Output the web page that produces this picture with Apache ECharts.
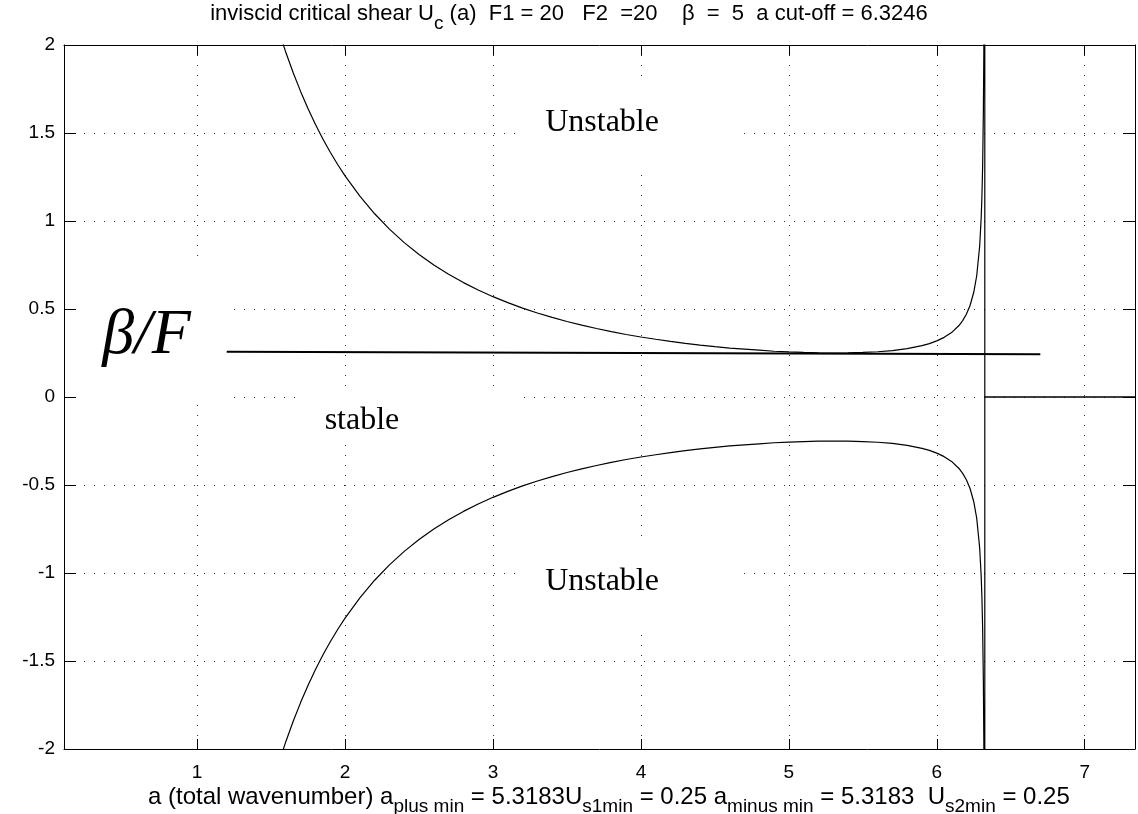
<!DOCTYPE html>
<html><head><meta charset="utf-8">
<script src="https://cdn.jsdelivr.net/npm/echarts@6/dist/echarts.min.js"></script>
<style>html,body{margin:0;padding:0;background:#fff}#c{width:1138px;height:814px}</style>
</head><body><div id="c"></div>
<script>
// ---- data ----
const xRange = [0.1, 7.34];
const yRange = [-2, 2];
const xTickValues = [1, 2, 3, 4, 5, 6, 7];
const aCutoff = 6.3246;

const aValues = [1.5, 1.55, 1.6, 1.65, 1.7, 1.75, 1.8, 1.85, 1.9, 1.95, 2.0,
  2.1, 2.2, 2.3, 2.4, 2.5, 2.6, 2.7, 2.8, 2.9, 3.0,
  3.1, 3.2, 3.3, 3.4, 3.5, 3.6, 3.7, 3.8, 3.9, 4.0,
  4.1, 4.2, 4.3, 4.4, 4.5, 4.6, 4.7, 4.8, 4.9, 5.0,
  5.1, 5.2, 5.3183, 5.4, 5.5, 5.6, 5.7, 5.8, 5.9,
  5.95, 6.0, 6.05, 6.1, 6.15, 6.175, 6.2, 6.225, 6.25, 6.27, 6.29, 6.30, 6.305, 6.31, 6.315, 6.318, 6.32, 6.323,
  6.3246, 6.3246, 7.34];
const uUpper = [2.226, 2.085, 1.957, 1.841, 1.735, 1.638, 1.548, 1.466, 1.391, 1.321, 1.256,
  1.141, 1.041, 0.954, 0.877, 0.810, 0.750, 0.698, 0.650, 0.608, 0.570,
  0.536, 0.505, 0.477, 0.452, 0.429, 0.408, 0.389, 0.371, 0.355, 0.341,
  0.328, 0.316, 0.305, 0.295, 0.286, 0.278, 0.272, 0.266, 0.260, 0.256,
  0.253, 0.251, 0.250, 0.251, 0.253, 0.257, 0.264, 0.275, 0.292,
  0.303, 0.319, 0.339, 0.366, 0.406, 0.434, 0.470, 0.520, 0.595, 0.689, 0.858, 1.014, 1.134, 1.311, 1.615, 1.946, 2.334, 3.99,
  40, 0, 0];
const uLower = [-2.226, -2.085, -1.957, -1.841, -1.735, -1.638, -1.548, -1.466, -1.391, -1.321, -1.256,
  -1.141, -1.041, -0.954, -0.877, -0.810, -0.750, -0.698, -0.650, -0.608, -0.570,
  -0.536, -0.505, -0.477, -0.452, -0.429, -0.408, -0.389, -0.371, -0.355, -0.341,
  -0.328, -0.316, -0.305, -0.295, -0.286, -0.278, -0.272, -0.266, -0.260, -0.256,
  -0.253, -0.251, -0.250, -0.251, -0.253, -0.257, -0.264, -0.275, -0.292,
  -0.303, -0.319, -0.339, -0.366, -0.406, -0.434, -0.470, -0.520, -0.595, -0.689, -0.858, -1.014, -1.134, -1.311, -1.615, -1.946, -2.334, -3.99,
  -40, 0, 0];
// hand-drawn beta/F line
const betaLineX = [1.2, 6.7];
const betaLineY = [0.257, 0.243];

// annotations: text, anchor (data coords, left / bottom of text box)
const annotTexts = ['Unstable', 'Unstable', 'stable', 'β/F'];
const annotX = [3.353, 3.353, 1.862, 0.358];
const annotY = [1.468, -1.14, -0.225, 0.165];
// white boxes behind annotations (data coords: x0, x1, y0, y1)
const maskX0 = [3.20, 3.20, 1.708, 0.1];
const maskX1 = [4.68, 4.68, 3.165, 1.199];
const maskY0 = [1.774, -0.839, 0.053, 0.752];
const maskY1 = [1.263, -1.35, -0.254, -0.044];

const titleText = 'inviscid critical shear U{s|c} (a)  F1 = 20   F2  =20    β  =  5  a cut-off = 6.3246';
const xNameText = 'a (total wavenumber) a{s|plus min} = 5.3183U{s|s1min} = 0.25 a{s|minus min} = 5.3183  U{s|s2min} = 0.25';

// ---- chart ----
const sansFont = '"Liberation Sans", Arial, Helvetica, sans-serif';
const serifFont = '"Liberation Serif", "Times New Roman", serif';
const chart = echarts.init(document.getElementById('c'), null, {renderer: 'canvas'});

function textStyleFor(size, subSize) {
  return {fontSize: size, fontFamily: sansFont, color: '#000', fontWeight: 'normal', lineHeight: 22,
    rich: {s: {fontSize: subSize, fontFamily: sansFont, color: '#000', lineHeight: 38, verticalAlign: 'bottom'}}};
}

const dotted = {color: '#333', width: 1, type: [1, 9]};

const option = {
  backgroundColor: '#fff',
  animation: false,
  title: [
    {text: titleText, left: 'center', top: -5, padding: 0, textStyle: textStyleFor(22, 19)},
    {text: xNameText, left: 148, top: 778, padding: 0, textStyle: textStyleFor(24, 19)}
  ],
  grid: {left: 64, right: -2, top: 45, bottom: 65, containLabel: false},
  xAxis: [
    {type: 'value', min: xRange[0], max: xRange[1], splitNumber: 7, position: 'bottom', z: 5,
      axisLine: {show: true, onZero: false, lineStyle: {color: '#000', width: 1}},
      axisTick: {show: true, inside: true, length: 10, lineStyle: {color: '#000'}},
      axisLabel: {show: true, margin: 14, color: '#000', fontSize: 19, fontFamily: sansFont,
        formatter: v => xTickValues.indexOf(Math.round(v * 1000) / 1000) >= 0 ? String(v) : ''},
      splitLine: {show: false}},
    {type: 'value', min: xRange[0], max: xRange[1], splitNumber: 7, position: 'top', z: 0,
      axisLine: {show: true, onZero: false, lineStyle: {color: '#000', width: 1}},
      axisTick: {show: true, inside: true, length: 10, lineStyle: {color: '#000'}},
      axisLabel: {show: false},
      splitLine: {show: true, lineStyle: dotted}}
  ],
  yAxis: [
    {type: 'value', min: yRange[0], max: yRange[1], interval: 0.5, position: 'left', z: 5,
      axisLine: {show: true, onZero: false, lineStyle: {color: '#000', width: 1}},
      axisTick: {show: true, inside: true, length: 12, lineStyle: {color: '#000'}},
      axisLabel: {show: true, margin: 9, color: '#000', fontSize: 19, fontFamily: sansFont},
      splitLine: {show: false}},
    {type: 'value', min: yRange[0], max: yRange[1], interval: 0.5, position: 'right', z: 0,
      axisLine: {show: true, onZero: false, lineStyle: {color: '#000', width: 1}},
      axisTick: {show: true, inside: true, length: 12, lineStyle: {color: '#000'}},
      axisLabel: {show: false},
      splitLine: {show: true, lineStyle: dotted}}
  ],
  series: [
    {type: 'line', xAxisIndex: 0, yAxisIndex: 0, z: 3, showSymbol: false, symbol: 'none', clip: true,
      lineStyle: {color: '#000', width: 1.2},
      data: aValues.map((a, i) => [a, uUpper[i]])},
    {type: 'line', xAxisIndex: 0, yAxisIndex: 0, z: 3, showSymbol: false, symbol: 'none', clip: true,
      lineStyle: {color: '#000', width: 1.2},
      data: aValues.map((a, i) => [a, uLower[i]])},
    {type: 'line', xAxisIndex: 0, yAxisIndex: 0, z: 3, showSymbol: false, symbol: 'none', clip: true,
      lineStyle: {color: '#000', width: 2},
      data: betaLineX.map((a, i) => [a, betaLineY[i]])}
  ]
};
chart.setOption(option);

const toPx = (x, y) => chart.convertToPixel({xAxisIndex: 0, yAxisIndex: 0}, [x, y]);
const graphics = [];
maskX0.forEach((x0, i) => {
  const p0 = toPx(x0, maskY0[i]);
  const p1 = toPx(maskX1[i], maskY1[i]);
  graphics.push({type: 'rect', z: 1, silent: true,
    shape: {x: Math.min(p0[0], p1[0]), y: Math.min(p0[1], p1[1]), width: Math.abs(p1[0] - p0[0]), height: Math.abs(p1[1] - p0[1])},
    style: {fill: '#fff'}});
});
annotTexts.forEach((t, i) => {
  const p = toPx(annotX[i], annotY[i]);
  const isBeta = t === 'β/F';
  graphics.push({type: 'text', z: 4, silent: true, x: p[0], y: p[1],
    style: {text: t, fill: '#000', fontFamily: serifFont, fontSize: isBeta ? 64 : 32,
      fontStyle: isBeta ? 'italic' : 'normal', textAlign: 'left', textVerticalAlign: 'bottom'}});
});
chart.setOption({graphic: graphics});
</script>
</body></html>
